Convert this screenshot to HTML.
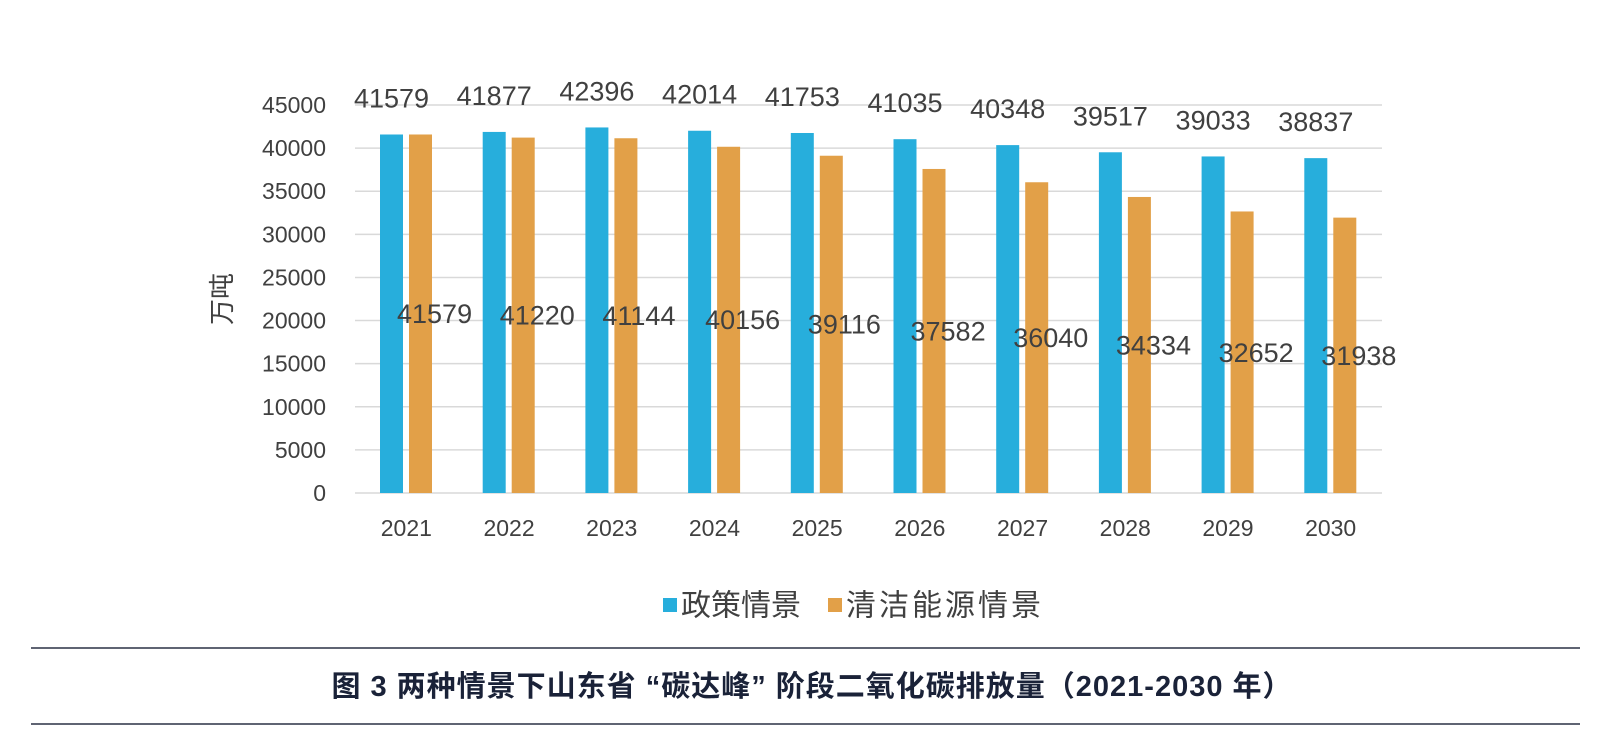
<!DOCTYPE html>
<html><head><meta charset="utf-8"><style>
body{margin:0;background:#fff;}
svg{display:block;font-family:"Liberation Sans","Noto Sans CJK SC",sans-serif;}
</style></head><body>
<svg id="c" width="1600" height="748" viewBox="0 0 1600 748">
<g id="grid"></g><g id="bars"></g><g id="labels"></g>
<text x="222" y="299" transform="rotate(-90 222 299)" text-anchor="middle" dominant-baseline="central" font-size="26" fill="#404040">万吨</text>
<g>
<rect x="663" y="598" width="14" height="14" fill="#27AEDC"/>
<text x="681" y="606" dominant-baseline="central" font-size="30" fill="#404040">政策情景</text>
<rect x="828" y="598" width="14" height="14" fill="#E2A048"/>
<text x="846" y="606" dominant-baseline="central" font-size="30" fill="#404040" letter-spacing="3">清洁能源情景</text>
</g>
<line x1="31" y1="648" x2="1580" y2="648" stroke="#2a3045" stroke-width="1.5"/>
<text x="812" y="687" text-anchor="middle" dominant-baseline="central" font-size="29" font-weight="bold" fill="#1a2238" letter-spacing="1">图 3 两种情景下山东省 “碳达峰” 阶段二氧化碳排放量（2021-2030 年）</text>
<line x1="31" y1="724" x2="1580" y2="724" stroke="#2a3045" stroke-width="1.5"/>
</svg>
<script>
const years=["2021","2022","2023","2024","2025","2026","2027","2028","2029","2030"];
const policy=[41579,41877,42396,42014,41753,41035,40348,39517,39033,38837];
const clean=[41579,41220,41144,40156,39116,37582,36040,34334,32652,31938];
const yTicks=[0,5000,10000,15000,20000,25000,30000,35000,40000,45000];
const NS="http://www.w3.org/2000/svg";
const L=355,R=1382,Y0=493,Y1=105,MAX=45000;
const step=(R-L)/years.length;
const y=v=>Y0-(v/MAX)*(Y0-Y1);
const xc=i=>L+i*step;
function mk(t,a,p){const e=document.createElementNS(NS,t);for(const k in a)e.setAttribute(k,a[k]);p.appendChild(e);return e;}
const g=document.getElementById('grid'),b=document.getElementById('bars'),lb=document.getElementById('labels');
yTicks.forEach(t=>{
 const ln=mk('line',{x1:L,x2:R,y1:y(t),y2:y(t),stroke:'#d9d9d9','stroke-width':1.5},g);
 
 
 const tx=mk('text',{x:326,y:y(t),'text-anchor':'end','dominant-baseline':'central','font-size':23,fill:'#404040'},g);
 tx.textContent=t;
 
 
});
years.forEach((yr,i)=>{
 const bx=xc(i)+25,ox=bx+29,w=23;
 const r1=mk('rect',{x:bx,y:y(policy[i]),width:w,height:Y0-y(policy[i]),fill:'#27AEDC'},b);
 
 
 const r2=mk('rect',{x:ox,y:y(clean[i]),width:w,height:Y0-y(clean[i]),fill:'#E2A048'},b);
 
 
 const t1=mk('text',{x:bx+w/2,y:y(policy[i])-27,'text-anchor':'middle','font-size':27,fill:'#404040'},lb);
 t1.textContent=policy[i];
 
 
 const t2=mk('text',{x:ox-12,y:323+(clean[0]-clean[i])*0.004356,'font-size':27,fill:'#404040'},lb);
 t2.textContent=clean[i];
 
 
 const t3=mk('text',{x:xc(i)+step/2,y:536,'text-anchor':'middle','font-size':23,fill:'#404040'},lb);
 t3.textContent=yr;
 
 
});
</script>
</body></html>
